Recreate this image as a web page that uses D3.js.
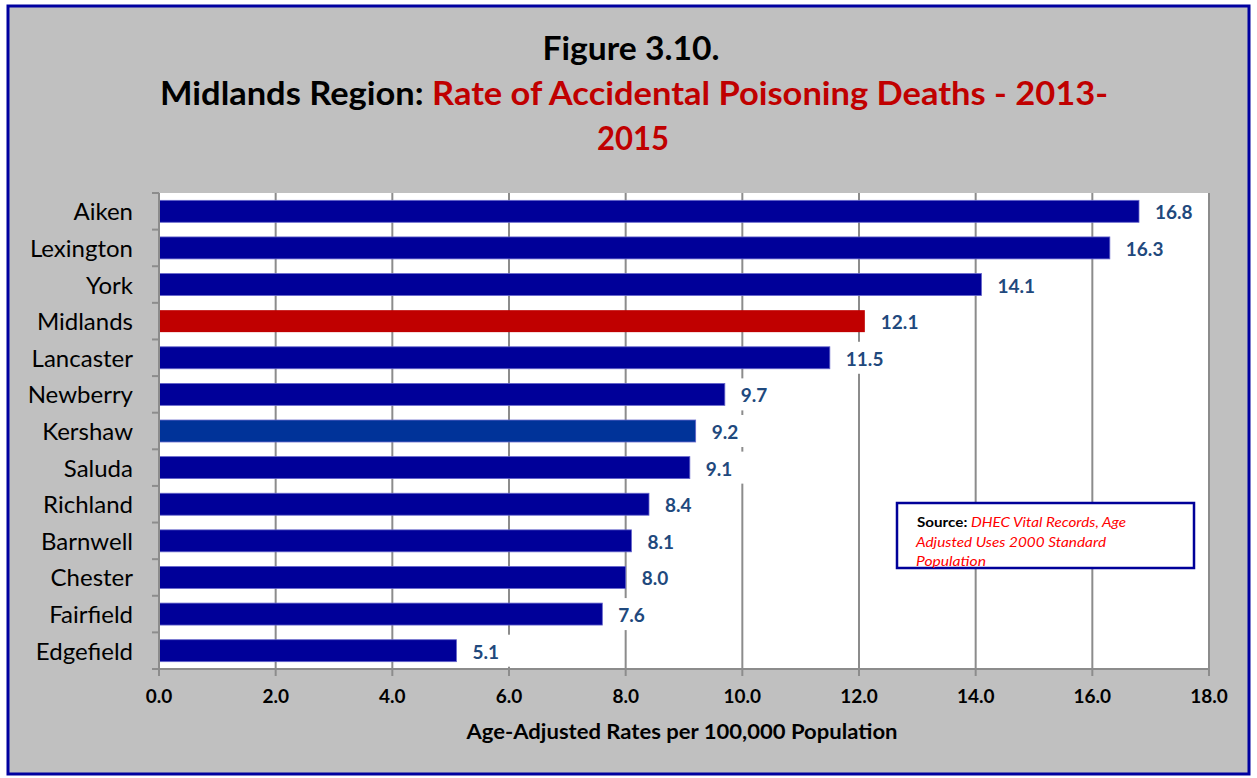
<!DOCTYPE html>
<html><head><meta charset="utf-8">
<script src="https://cdn.jsdelivr.net/npm/d3@7"></script>
<style>body{margin:0;background:#fff;}svg{display:block;}</style>
</head><body>
<script>
const categories = ["Aiken","Lexington","York","Midlands","Lancaster","Newberry","Kershaw","Saluda","Richland","Barnwell","Chester","Fairfield","Edgefield"];
const values = [16.8,16.3,14.1,12.1,11.5,9.7,9.2,9.1,8.4,8.1,8.0,7.6,5.1];
const barColors = ["#000099","#000099","#000099","#C00000","#000099","#000099","#003399","#000099","#000099","#000099","#000099","#000099","#000099"];
const xTicks = [0,2,4,6,8,10,12,14,16,18];

const W=1257,H=778;
const font="Lato, 'Open Sans', sans-serif";
const svg=d3.select("body").append("svg").attr("width",W).attr("height",H);
svg.append("rect").attr("x",0).attr("y",0).attr("width",W).attr("height",H).attr("fill","#fff");
svg.append("rect").attr("x",8).attr("y",6).attr("width",1241).attr("height",768).attr("fill","#C0C0C0").attr("stroke","#0000A0").attr("stroke-width",3);

const L=159,R=1209,T=193,B=669;
const x=d3.scaleLinear().domain([0,18]).range([L,R]);
const y=d3.scaleBand().domain(categories).range([T,B]).paddingInner(0.4).paddingOuter(0.2);
const yb=d3.scaleBand().domain(categories).range([T,B]);

svg.append("rect").attr("x",L).attr("y",T).attr("width",R-L).attr("height",B-T).attr("fill","#fff");
svg.append("g").selectAll("line").data(xTicks.slice(1)).join("line")
 .attr("x1",d=>x(d)).attr("x2",d=>x(d)).attr("y1",T).attr("y2",B)
 .attr("stroke","#8C8C8C").attr("stroke-width",2);

svg.append("g").selectAll("rect").data(values).join("rect")
 .attr("x",x(0)).attr("y",(d,i)=>y(categories[i])).attr("width",d=>x(d)-x(0)).attr("height",y.bandwidth())
 .attr("fill",(d,i)=>barColors[i]).attr("stroke",(d,i)=>i===3?"none":"#6666CC").attr("stroke-width",0.8);

const lg=svg.append("g");
values.forEach((v,i)=>{
  const cx=x(v)+8, cy=y(categories[i])+y.bandwidth()/2;
  lg.append("rect").attr("x",cx).attr("y",cy-16).attr("width",52).attr("height",32).attr("fill","#fff");
  lg.append("text").attr("x",cx+8).attr("y",cy+8).attr("font-family",font).attr("font-weight","bold")
   .attr("font-size",19).attr("fill","#1F497D").text(v.toFixed(1));
});

const axc="#8C8C8C";
svg.append("line").attr("x1",L).attr("x2",L).attr("y1",T).attr("y2",B).attr("stroke",axc).attr("stroke-width",2);
svg.append("line").attr("x1",L).attr("x2",R).attr("y1",B).attr("y2",B).attr("stroke",axc).attr("stroke-width",2);
svg.append("g").selectAll("line").data(categories.concat(["_end"])).join("line")
 .attr("x1",L-7).attr("x2",L).attr("y1",(d,i)=>T+i*yb.step()).attr("y2",(d,i)=>T+i*yb.step())
 .attr("stroke",axc).attr("stroke-width",2);
svg.append("g").selectAll("line").data(xTicks).join("line")
 .attr("x1",d=>x(d)).attr("x2",d=>x(d)).attr("y1",B).attr("y2",B+7).attr("stroke",axc).attr("stroke-width",2);
svg.append("g").selectAll("text").data(xTicks).join("text")
 .attr("x",d=>x(d)).attr("y",703).attr("text-anchor","middle").attr("font-family",font).attr("font-weight","bold")
 .attr("font-size",19).attr("fill","#000").text(d=>d.toFixed(1));
svg.append("g").selectAll("text").data(categories).join("text")
 .attr("x",133).attr("y",d=>yb(d)+yb.bandwidth()/2+9).attr("text-anchor","end").attr("font-family",font)
 .attr("font-size",24).attr("fill","#000").text(d=>d);
svg.append("text").attr("x",682).attr("y",739).attr("text-anchor","middle").attr("font-family",font)
 .attr("font-weight","bold").attr("font-size",20).attr("textLength",431).attr("lengthAdjust","spacingAndGlyphs")
 .text("Age-Adjusted Rates per 100,000 Population");

svg.append("text").attr("x",631).attr("y",60).attr("text-anchor","middle").attr("font-family",font)
 .attr("font-weight","bold").attr("font-size",32).attr("textLength",177).attr("lengthAdjust","spacingAndGlyphs").text("Figure 3.10.");
const t2=svg.append("text").attr("x",634).attr("y",105).attr("text-anchor","middle").attr("font-family",font)
 .attr("font-weight","bold").attr("font-size",32).attr("textLength",948).attr("lengthAdjust","spacingAndGlyphs");
t2.append("tspan").attr("fill","#000").text("Midlands Region: ");
t2.append("tspan").attr("fill","#C00000").text("Rate of Accidental Poisoning Deaths - 2013-");
svg.append("text").attr("x",633).attr("y",150).attr("text-anchor","middle").attr("font-family",font)
 .attr("font-weight","bold").attr("font-size",32).attr("textLength",72).attr("lengthAdjust","spacingAndGlyphs").attr("fill","#C00000").text("2015");

svg.append("rect").attr("x",897).attr("y",503).attr("width",297).attr("height",65).attr("fill","#fff")
 .attr("stroke","#000099").attr("stroke-width",2.5);
const st=svg.append("g").attr("font-family",font).attr("font-size",13.5);
const s1=st.append("text").attr("x",917).attr("y",527).attr("textLength",209).attr("lengthAdjust","spacingAndGlyphs");
s1.append("tspan").attr("font-weight","bold").attr("fill","#000").text("Source");
s1.append("tspan").attr("fill","#000").attr("font-weight","bold").text(": ");
s1.append("tspan").attr("fill","#FF0000").attr("font-style","italic").text("DHEC Vital Records, Age");
st.append("text").attr("x",916).attr("y",547).attr("fill","#FF0000").attr("font-style","italic").attr("textLength",190).attr("lengthAdjust","spacingAndGlyphs").text("Adjusted Uses 2000 Standard");
st.append("text").attr("x",916).attr("y",566).attr("fill","#FF0000").attr("font-style","italic").attr("textLength",70).attr("lengthAdjust","spacingAndGlyphs").text("Population");
</script>
</body></html>
